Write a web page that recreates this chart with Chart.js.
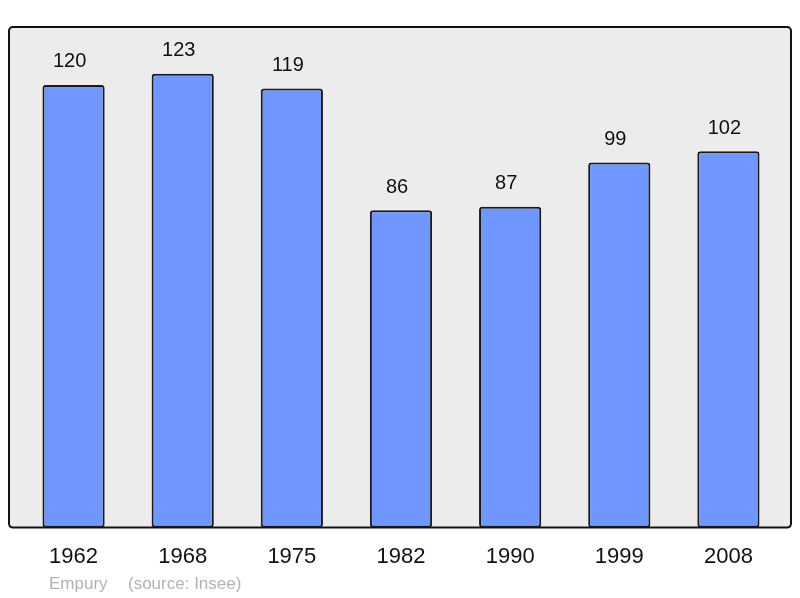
<!DOCTYPE html>
<html>
<head>
<meta charset="utf-8">
<script src="https://cdn.jsdelivr.net/npm/chart.js@4.4.0/dist/chart.umd.min.js"></script>
<style>
  html, body { margin: 0; padding: 0; background: #ffffff; }
  #wrap { width: 800px; height: 598px; }
</style>
</head>
<body>
<div id="wrap"><canvas id="popChart" width="800" height="598"></canvas></div>
<script>
// Données : population par recensement
const annees = ['1962', '1968', '1975', '1982', '1990', '1999', '2008'];
const population = [120, 123, 119, 86, 87, 99, 102];
const auteur = 'Empury';
const source = '(source: Insee)';

const fontFamily = '"Liberation Sans", Arial, sans-serif';

// Cadre gris derrière les barres + étiquettes de valeur + pied
const cadrePlugin = {
    id: 'cadre',
    beforeDraw(chart) {
        const ctx = chart.ctx;
        const a = chart.chartArea;
        const x0 = a.left - 10, x1 = a.right + 8, y0 = a.top, y1 = a.bottom;
        ctx.save();
        ctx.beginPath();
        ctx.roundRect(x0, y0, x1 - x0, y1 - y0, 4);
        ctx.fillStyle = '#ececec';
        ctx.fill();
        ctx.lineWidth = 2;
        ctx.strokeStyle = '#111111';
        ctx.stroke();
        ctx.restore();
    },
    afterDatasetsDraw(chart) {
        const ctx = chart.ctx;
        const meta = chart.getDatasetMeta(0);
        ctx.save();
        ctx.font = '20px ' + fontFamily;
        ctx.fillStyle = '#111111';
        ctx.textAlign = 'center';
        ctx.textBaseline = 'middle';
        meta.data.forEach((bar, i) => {
            ctx.fillText(String(population[i]), bar.x - 4, bar.y - 23);
        });
        ctx.font = '17px ' + fontFamily;
        ctx.fillStyle = '#b3b3b3';
        ctx.textAlign = 'left';
        ctx.fillText(auteur, 49, 584);
        ctx.fillText(source, 128, 584);
        ctx.restore();
    }
};

new Chart(document.getElementById('popChart'), {
    type: 'bar',
    data: {
        labels: annees,
        datasets: [{
            data: population,
            backgroundColor: '#7096ff',
            borderColor: '#1a1a1a',
            borderWidth: 2,
            borderRadius: 3,
            borderSkipped: false,
            barPercentage: 0.57,
            categoryPercentage: 1
        }]
    },
    options: {
        responsive: false,
        animation: false,
        devicePixelRatio: 1,
        layout: { padding: { left: 19, right: 17, top: 27, bottom: 12 } },
        plugins: {
            legend: { display: false },
            tooltip: { enabled: false }
        },
        scales: {
            x: {
                grid: { display: false, drawTicks: false, tickLength: 0 },
                border: { display: false },
                ticks: {
                    color: '#111111',
                    padding: 16,
                    font: { size: 22, family: fontFamily }
                }
            },
            y: {
                display: false,
                min: 0,
                max: 135.7
            }
        }
    },
    plugins: [cadrePlugin]
});
</script>
</body>
</html>
